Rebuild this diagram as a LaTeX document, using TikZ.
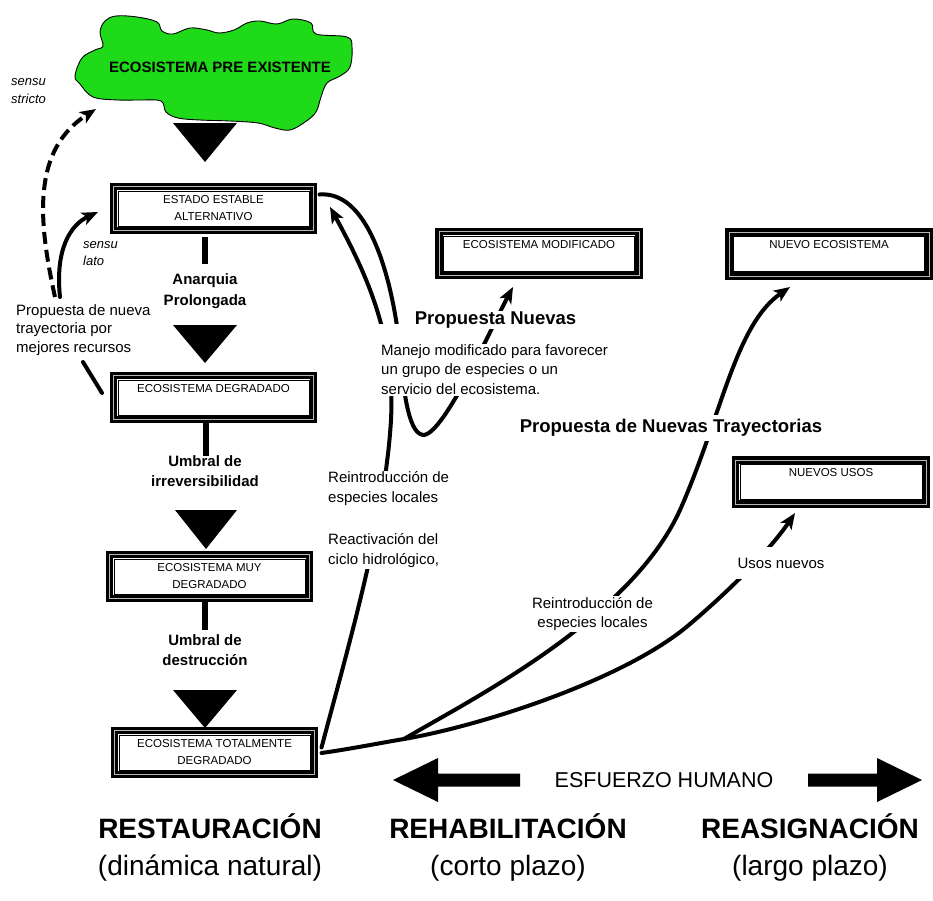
\documentclass[tikz,border=0pt]{standalone}
\usepackage{fontspec}
\setmainfont{Liberation Sans}
\usetikzlibrary{arrows.meta}
\definecolor{leafgreen}{RGB}{30,218,24}
\newcommand{\fsz}[2]{\fontsize{#1}{#2}\selectfont}
\begin{document}
\begin{tikzpicture}[x=1pt,y=-1pt,
  stagebox/.style={draw=black, line width=3.4pt, double=gray!55, double distance=0.7pt,
    fill=white, minimum width=200pt, minimum height=44pt, inner sep=0pt, outer sep=0pt,
    align=center, font=\fsz{11.5}{17}},
  thinframe/.style={line width=0.7pt},
  flow/.style={line width=4pt, line cap=round},
  arrowed/.style={-{Stealth[length=16pt,width=13pt,inset=4pt]}},
  note/.style={font=\fsz{15}{19.5}, inner sep=1pt},
  cover/.style={fill=white},
  stagelabel/.style={font=\bfseries\fsz{15}{20.5}, align=center, inner sep=0pt},
  proposal/.style={font=\bfseries\fsz{18.5}{22}, inner sep=1pt},
  sensu/.style={font=\itshape\fsz{13}{17.5}, align=left, inner sep=0pt},
  areatitle/.style={font=\bfseries\fsz{28}{32}, inner sep=0pt},
  areanote/.style={font=\fsz{28}{32}, inner sep=0pt},
]
\useasboundingbox (0,0) rectangle (933,900);

% original ecosystem (green cloud)
\filldraw[fill=leafgreen, draw=black, line width=0.9pt]
  plot[smooth cycle, tension=0.6] coordinates {
  (75,76) (82,58) (95,50) (103,46) (100,32) (105,21) (116,16) (137,17) (157,22)
  (162,31) (173,34) (190,28) (207,30) (219,33) (234,30) (247,23) (260,21) (277,24)
  (293,19) (311,23) (316,34) (347,37) (352,47) (350,67) (340,76) (327,83) (321,97)
  (316,112) (305,122) (290,130) (275,128) (258,123) (230,121) (200,120) (178,118)
  (166,112) (161,101) (140,100) (118,100) (93,97) (80,84)};
\node[font=\bfseries\fsz{15}{18}] (origin) at (220,67.5) {ECOSISTEMA PRE EXISTENTE};

% degradation steps
\fill (173,123) -- (237,123) -- (205,162) -- cycle;
\fill (173,325) -- (237,325) -- (205,363) -- cycle;
\fill (175,510) -- (237,510) -- (206,549) -- cycle;
\fill (173,690) -- (237,690) -- (205,728) -- cycle;

\node[stagebox] (b1) at (213.5,208.5) {\strut ESTADO ESTABLE\\\strut ALTERNATIVO};
\node[stagebox] (b2) at (213.5,397.5) {\strut ECOSISTEMA DEGRADADO\\\strut};
\node[stagebox] (b3) at (209.5,576.5) {\strut ECOSISTEMA MUY\\\strut DEGRADADO};
\node[stagebox] (b4) at (214.5,752.5) {\strut ECOSISTEMA TOTALMENTE\\\strut DEGRADADO};
\node[stagebox] (b5) at (539,253.5) {\strut ECOSISTEMA MODIFICADO\\\strut};
\node[stagebox] (b6) at (829,254) {\strut NUEVO ECOSISTEMA\\\strut};
\node[stagebox, minimum width=191pt] (b7) at (831,482) {\strut NUEVOS USOS\\\strut};
\foreach \b in {b1,b2,b3,b4,b5,b6,b7}
  \draw[thinframe] ([shift={(4.6,4.6)}]\b.north west) rectangle ([shift={(-4.6,-4.6)}]\b.south east);

% stubs under the boxes
\fill (202,237) rectangle (208,264);
\fill (203,423) rectangle (209,456);
\fill (202,602) rectangle (208,630);

\node[stagelabel] (anarq) at (205,291) {Anarquia\\Prolongada};
\node[stagelabel] (irrev) at (205,471) {Umbral de\\irreversibilidad};
\node[stagelabel] (destr) at (205,650) {Umbral de\\destrucci\'on};

% rehabilitation paths
\draw[flow, arrowed] ([shift={(6,8)}]b1.north east)
  .. controls (372,190) and (394,290) .. (400,350)
  .. controls (404,400) and (410,435) .. (424,435)
  .. controls (445,432) and (490,330) .. ([shift={(-26,11.5)}]b5.south);
\draw[flow, arrowed] ([shift={(7,-5)}]b4.east)
  .. controls (350,640) and (385,520) .. (391,420)
  .. controls (395,340) and (370,280) .. ([shift={(16.5,-1.5)}]b1.east);

% reassignment paths
\draw[flow, arrowed] ([shift={(7,0.5)}]b4.east)
  .. controls (350,749) and (380,743) .. (404,739) coordinate (fork)
  .. controls (480,726) and (625,680) .. (690,624)
  .. controls (730,590) and (770,550) .. ([shift={(59.5,9)}]b7.south west);
\draw[flow, arrowed] (fork)
  .. controls (470,700) and (630,620) .. (680,510)
  .. controls (722,415) and (735,325) .. ([shift={(61,11)}]b6.south west);

% labels over the paths
\fill[white] (378,324) rectangle (412,344);
\node[note, cover, align=left, anchor=west] (manage) at (380,369.5)
  {Manejo modificado para favorecer\\un grupo de especies o un\\servicio del ecosistema.};
\node[proposal, cover] (pnew) at (495.5,320) {Propuesta Nuevas};
\node[note, cover, align=left, anchor=west, font=\fsz{15}{20}] (reintro) at (327,520)
  {Reintroducci\'on de\\especies locales\\[22pt]Reactivaci\'on del\\ciclo hidrol\'ogico,};
\node[note, cover, align=center, font=\fsz{15}{19}] (reintro2) at (592.5,614)
  {Reintroducci\'on de\\especies locales};
\node[proposal, cover, inner ysep=4pt] (ptraj) at (671,428) {Propuesta de Nuevas Trayectorias};
\node[note, cover, inner xsep=2pt, inner ysep=11pt] (uses) at (781,563) {Usos nuevos};

% restoration proposals on the left
\node[note, align=left, anchor=west, font=\fsz{15}{18.5}] (renew) at (15,330)
  {Propuesta de nueva\\trayectoria por\\mejores recursos};
\node[sensu, anchor=west] (strict) at (11,91) {sensu\\stricto};
\node[sensu, anchor=west] (lax) at (83,253.5) {sensu\\lato};
\draw[flow, line cap=butt, dash pattern=on 12pt off 6pt, arrowed] (55,297)
  .. controls (38,220) and (32,150) .. (96,109);
\draw[flow, arrowed] (60,297) .. controls (55,250) and (70,225) .. ([shift={(-15.5,3.5)}]b1.west);
\draw[flow] ([shift={(-11.5,-4.5)}]b2.west) -- (83,362);

% human effort axis
\node[font=\fsz{21.5}{25}] (effort) at (664,780) {ESFUERZO HUMANO};
\fill (393,780) -- (438,758) -- (438,773.5) -- (520,773.5) -- (520,786.5) -- (438,786.5) -- (438,802) -- cycle;
\fill (922,780) -- (877,758) -- (877,773.5) -- (808,773.5) -- (808,786.5) -- (877,786.5) -- (877,802) -- cycle;

\node[areatitle] (restor) at (210,826) {RESTAURACI\'ON};
\node[areanote] (restorn) at (210,868) {(din\'amica natural)};
\node[areatitle] (rehab) at (508,826) {REHABILITACI\'ON};
\node[areanote] (rehabn) at (508,868) {(corto plazo)};
\node[areatitle] (reass) at (810,826) {REASIGNACI\'ON};
\node[areanote] (reassn) at (810,868) {(largo plazo)};
\end{tikzpicture}
\end{document}
